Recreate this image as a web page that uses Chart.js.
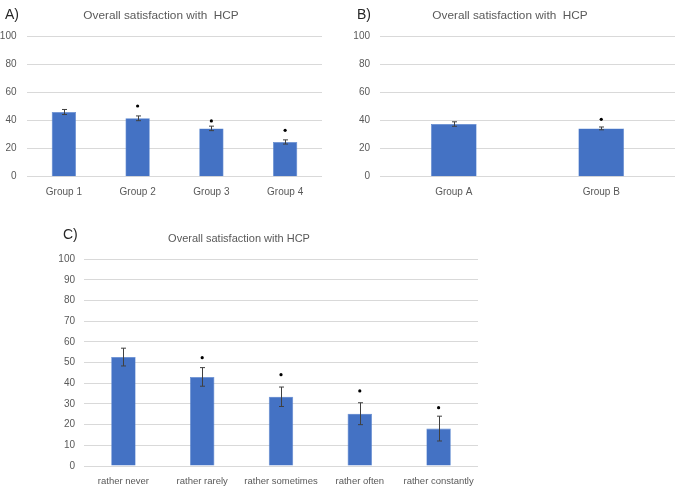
<!DOCTYPE html>
<html>
<head>
<meta charset="utf-8">
<script src="https://cdn.jsdelivr.net/npm/chart.js@4"></script>
<style>
  html, body { margin:0; padding:0; background:#fff; overflow:hidden; width:676px; height:492px; }
  canvas { position:absolute; }
  #chartA { left:0; top:0; }
  #chartB { left:345px; top:0; }
  #chartC { left:0; top:200px; }
</style>
</head>
<body>
<canvas id="chartA" width="326" height="200"></canvas>
<canvas id="chartB" width="344" height="200"></canvas>
<canvas id="chartC" width="540" height="292"></canvas>
<script>
// panel A - by group
const groupLabels = ['Group 1','Group 2','Group 3','Group 4'];
const groupMeans = [46.2, 41.7, 34.5, 24.8];
const groupErrors = [1.8, 1.7, 1.6, 1.5];
const groupStars = [null, 50.5, 39.8, 33.1];

// panel B - group A vs B
const abLabels = ['Group A','Group B'];
const abMeans = [37.6, 34.5];
const abErrors = [1.6, 1.0];
const abStars = [null, 41];

// panel C - by frequency
const freqLabels = ['rather never','rather rarely','rather sometimes','rather often','rather constantly'];
const freqMeans = [52.7, 43.1, 33.5, 25.3, 18.1];
const freqErrors = [4.3, 4.5, 4.7, 5.3, 6.0];
const freqStars = [null, 52.4, 44.2, 36.3, 28.2];

const titleText = 'Overall satisfaction with  HCP';
const barColor = '#4472C4';
const textGrey = '#595959';
const gridGrey = '#d9d9d9';

// draws the error whiskers from the bar dataset's errors array
const errorBars = {
    id:'errorBars',
    afterDatasetsDraw(chart){
        const ctx = chart.ctx;
        const y = chart.scales.y;
        chart.data.datasets.forEach((ds,i)=>{
            if(!ds.errors) return;
            const meta = chart.getDatasetMeta(i);
            ctx.save();
            ctx.strokeStyle = '#404040';
            ctx.lineWidth = 1;
            meta.data.forEach((bar,j)=>{
                const top = y.getPixelForValue(ds.data[j] + ds.errors[j]);
                const bot = y.getPixelForValue(ds.data[j] - ds.errors[j]);
                const x = Math.round(bar.x) + 0.5;
                ctx.beginPath();
                ctx.moveTo(x, top); ctx.lineTo(x, bot);
                ctx.moveTo(x-2.5, top); ctx.lineTo(x+2.5, top);
                ctx.moveTo(x-2.5, bot); ctx.lineTo(x+2.5, bot);
                ctx.stroke();
            });
            ctx.restore();
        });
    }
};

// "A)", "B)", "C)" labels
const panelLabel = {
    id:'panelLabel',
    afterDraw(chart, args, opts){
        const ctx = chart.ctx;
        ctx.save();
        ctx.font = '14px "Liberation Sans", Arial, sans-serif';
        ctx.fillStyle = '#262626';
        ctx.textBaseline = 'middle';
        ctx.fillText(opts.text, opts.x, opts.y);
        ctx.restore();
    }
};

function makeChart(id, labels, means, errors, stars, o){
    return new Chart(document.querySelector(id),{
        type:'bar',
        data:{
            labels:labels,
            datasets:[
                {
                    type:'line',
                    data:stars,
                    showLine:false,
                    pointStyle:'circle',
                    pointRadius:1.6,
                    pointBackgroundColor:'#000',
                    pointBorderWidth:0
                },
                {
                    data:means,
                    errors:errors,
                    backgroundColor:barColor,
                    borderColor:'#5a86d0',
                    borderWidth:0.6,
                    categoryPercentage:1,
                    barPercentage:o.barPct
                }
            ]
        },
        options:{
            responsive:false,
            animation:false,
            events:[],
            layout:{ padding:{ top:0, left:0, bottom:0, right:o.padRight } },
            plugins:{
                legend:{ display:false },
                tooltip:{ enabled:false },
                title:{
                    display:true,
                    text:o.title,
                    color:textGrey,
                    font:{ family:'"Liberation Sans", Arial, sans-serif', size:o.titleSize, weight:'normal', lineHeight:1.2 },
                    padding:{ top:o.titleTop, bottom:o.titleBottom }
                },
                panelLabel:{ text:o.letter, x:o.letterX, y:o.letterY }
            },
            scales:{
                x:{
                    grid:{ display:false, drawTicks:false },
                    border:{ display:false },
                    ticks:{ color:textGrey, padding:o.xPad, maxRotation:0, autoSkip:false,
                        font:{ family:'"Liberation Sans", Arial, sans-serif', size:o.xFont } },
                    afterFit(scale){ scale.height = o.xHeight; }
                },
                y:{
                    min:0, max:100,
                    grid:{ color:gridGrey, drawTicks:false },
                    border:{ display:false },
                    ticks:{ stepSize:o.step, color:textGrey, padding:o.yPad,
                        font:{ family:'"Liberation Sans", Arial, sans-serif', size:10 } },
                    afterFit(scale){ scale.width = o.yWidth; }
                }
            }
        },
        plugins:[errorBars, panelLabel]
    });
}

makeChart('#chartA', groupLabels, groupMeans, groupErrors, groupStars, {
    title:titleText, titleSize:11.8, letter:'A)', letterX:5, letterY:15,
    barPct:0.33, padRight:4, titleTop:8.9, titleBottom:13.6,
    xHeight:23.3, xPad:10, xFont:10, yWidth:27, yPad:10.5, step:20
});

makeChart('#chartB', abLabels, abMeans, abErrors, abStars, {
    title:titleText, titleSize:11.8, letter:'B)', letterX:12, letterY:15,
    barPct:0.31, padRight:14, titleTop:8.9, titleBottom:13.6,
    xHeight:23.3, xPad:10, xFont:10, yWidth:35, yPad:10, step:20
});

makeChart('#chartC', freqLabels, freqMeans, freqErrors, freqStars, {
    title:'Overall satisfaction with HCP', titleSize:11, letter:'C)', letterX:63, letterY:35,
    barPct:0.31, padRight:62, titleTop:32.4, titleBottom:13.7,
    xHeight:26, xPad:10, xFont:9.5, yWidth:84, yPad:9, step:10
});
</script>
</body>
</html>
